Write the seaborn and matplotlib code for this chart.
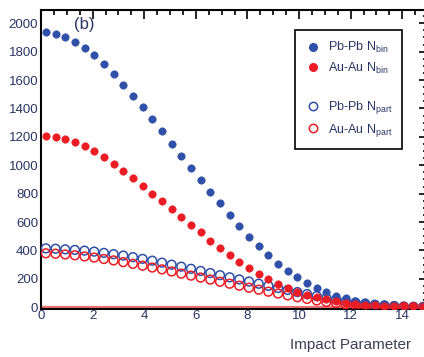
import numpy as np
import pandas as pd
import matplotlib
matplotlib.use("Agg")
import matplotlib.pyplot as plt
from matplotlib.lines import Line2D
from matplotlib.ticker import MultipleLocator
import seaborn as sns

# bin centres of impact parameter (fm)
b = [0.1875 + 0.375 * i for i in range(40)]

pbpb_nbin = [1935, 1922, 1900, 1870, 1828, 1775, 1712, 1645, 1568, 1490,
             1410, 1326, 1240, 1150, 1064, 978, 898, 815, 732, 650,
             572, 498, 430, 365, 308, 256, 210, 170, 135, 106,
             82, 62, 47, 35, 26, 20, 15, 12, 10, 8]
auau_nbin = [1205, 1200, 1185, 1165, 1133, 1100, 1060, 1010, 962, 908,
             852, 798, 748, 692, 634, 580, 528, 470, 415, 365,
             318, 275, 235, 198, 165, 136, 110, 88, 70, 55,
             42, 32, 24, 18, 14, 11, 9, 7, 6, 5]
pbpb_npart = [415, 412, 408, 404, 399, 392, 383, 374, 364, 353,
              341, 328, 314, 300, 286, 271, 256, 241, 226, 211,
              196, 181, 166, 151, 136, 122, 107, 93, 79, 66,
              54, 43, 33, 25, 18, 13, 9, 6, 4, 3]
auau_npart = [380, 377, 372, 366, 358, 350, 340, 330, 318, 306,
              293, 280, 267, 252, 237, 223, 209, 195, 180, 166,
              152, 138, 124, 110, 97, 84, 71, 59, 48, 38,
              29, 21, 15, 10, 7, 5, 3, 2, 1, 1]

labels = [r"Pb-Pb N$_{\rm bin}$", r"Au-Au N$_{\rm bin}$",
          r"Pb-Pb N$_{\rm part}$", r"Au-Au N$_{\rm part}$"]
y_ticks = [0, 200, 400, 600, 800, 1000, 1200, 1400, 1600, 1800, 2000]
x_ticks = [0, 2, 4, 6, 8, 10, 12, 14]

BLUE = "#2f4fa8"
RED = "#ec1c24"
NAVY = "#2a3566"

sns.set_theme(style="white")
plt.rcParams["font.family"] = ["Liberation Sans Narrow", "Liberation Sans", "DejaVu Sans"]
plt.rcParams["mathtext.fontset"] = "custom"
plt.rcParams["mathtext.rm"] = "Liberation Sans"

fig = plt.figure(figsize=(4.24, 3.57), dpi=100)
ax = fig.add_axes([41 / 424, 48 / 357, 387 / 424, 299 / 357])

df = pd.DataFrame({"b": b, "pbnb": pbpb_nbin, "aunb": auau_nbin,
                   "pbnp": pbpb_npart, "aunp": auau_npart})

ax.axhline(0, color="#f07070", lw=1.6, zorder=1)

sns.scatterplot(data=df, x="b", y="pbnp", ax=ax, marker="o", s=40,
                facecolors="none", edgecolor=BLUE, linewidth=1.1, zorder=3)
sns.scatterplot(data=df, x="b", y="aunp", ax=ax, marker="o", s=40,
                facecolors="none", edgecolor=RED, linewidth=1.1, zorder=3)
sns.scatterplot(data=df, x="b", y="pbnb", ax=ax, marker="o", s=28,
                color=BLUE, edgecolor=BLUE, linewidth=0.5, zorder=4)
sns.scatterplot(data=df, x="b", y="aunb", ax=ax, marker="o", s=28,
                color=RED, edgecolor=RED, linewidth=0.5, zorder=5)

ax.set_xlim(0, 15)
ax.set_ylim(-12, 2093)
ax.set_xticks(x_ticks)
ax.set_yticks(y_ticks)
ax.xaxis.set_minor_locator(MultipleLocator(0.5))
ax.yaxis.set_minor_locator(MultipleLocator(50))
ax.tick_params(which="both", direction="in", top=True, right=True,
               colors="black", labelcolor=NAVY, labelsize=9.5, width=1.2)
ax.tick_params(which="major", length=6.5)
ax.tick_params(which="minor", length=3.5)
ax.tick_params(axis="x", pad=1)
ax.tick_params(axis="y", pad=2)
for s in ax.spines.values():
    s.set_color("black")
    s.set_linewidth(1.5)
ax.set_xlabel("")
ax.set_ylabel("")

ax.text(0.085, 0.95, "(b)", transform=ax.transAxes, fontsize=12,
        color=NAVY, va="center", ha="left")

fig.text(290 / 424, 1 - 345 / 357, "Impact Parameter", fontsize=11,
         color="#3a3f55", ha="left", va="center")

handles = [
    Line2D([], [], ls="none", marker="o", ms=5.5, mfc=BLUE, mec=BLUE),
    Line2D([], [], ls="none", marker="o", ms=5.5, mfc=RED, mec=RED),
    Line2D([], [], ls="none", marker=None, alpha=0),
    Line2D([], [], ls="none", marker="o", ms=6, mfc="none", mec=BLUE, mew=1.1),
    Line2D([], [], ls="none", marker="o", ms=6, mfc="none", mec=RED, mew=1.1),
]
leg_labels = [labels[0], labels[1], " ", labels[2], labels[3]]
leg = ax.legend(handles, leg_labels, loc="upper right",
                bbox_to_anchor=(0.933, 0.933), borderaxespad=0,
                fontsize=9, labelspacing=0.45, handletextpad=0.6,
                handlelength=1.2, borderpad=0.8, fancybox=False,
                framealpha=1, edgecolor="black")
leg.get_frame().set_linewidth(1.2)
for t in leg.get_texts():
    t.set_color(NAVY)

fig.savefig("out.png", dpi=100)
